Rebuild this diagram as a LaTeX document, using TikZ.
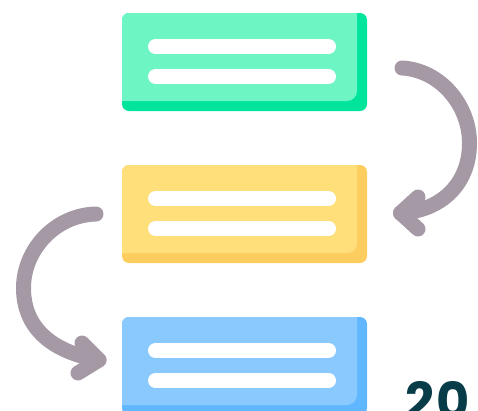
\documentclass[tikz,border=0pt]{standalone}
\usepackage{fontspec}
\newfontfamily\numfont{Poppins}
\definecolor{greenL}{HTML}{6DF5C3}
\definecolor{greenD}{HTML}{00E49B}
\definecolor{yellowL}{HTML}{FEDF7A}
\definecolor{yellowD}{HTML}{FECD5F}
\definecolor{blueL}{HTML}{8AC9FE}
\definecolor{blueD}{HTML}{60B7FF}
\definecolor{arrowC}{HTML}{A499A5}
\definecolor{numC}{HTML}{083C48}
\tikzset{
  textline/.style={white, line width=15pt, line cap=round},
  arrowline/.style={arrowC, line width=15pt, line cap=round, line join=round},
}
\newcommand\notebox[3]{%
  \fill[#3, rounded corners=7] (122,#1) rectangle (367,#1+98);
  \fill[#2] (122,#1+88) -- (122,#1+7) arc[start angle=180,end angle=270,radius=7]
     -- (357,#1) -- (357,#1+78) arc[start angle=0,end angle=90,radius=10] -- cycle;
  \draw[textline] (155.5,#1+33.5) -- (328.5,#1+33.5);
  \draw[textline] (155.5,#1+63.5) -- (328.5,#1+63.5);
}
\begin{document}
\begin{tikzpicture}[x=1pt,y=-1pt]
\useasboundingbox (0,0) rectangle (478,410);
\clip (0,0) rectangle (478,410);
\notebox{13}{greenL}{greenD}
\notebox{165}{yellowL}{yellowD}
\notebox{317}{blueL}{blueD}
% right arrow
\coordinate (rs) at (402,68);
\coordinate (rt) at (400.5,213);
\draw[arrowline] (rs) .. controls (440,70) and (469.5,105) .. (469.5,143)
   .. controls (469.5,185) and (440,211) .. (rt);
\draw[arrowline] (418,197) -- (rt) -- (418,229);
% left arrow
\coordinate (ls) at (96,214);
\coordinate (lt) at (99,360);
\draw[arrowline] (ls) .. controls (55,215) and (23.5,250) .. (23.5,288)
   .. controls (23.5,328) and (52,352) .. (lt);
\draw[arrowline] (82,343) -- (lt) -- (78,373);
\node[anchor=base west, inner sep=0pt, text=numC,
      font=\numfont\bfseries\fontsize{51}{51}\selectfont] (year) at (405.5,419) {2\kern2pt0};
\end{tikzpicture}
\end{document}
